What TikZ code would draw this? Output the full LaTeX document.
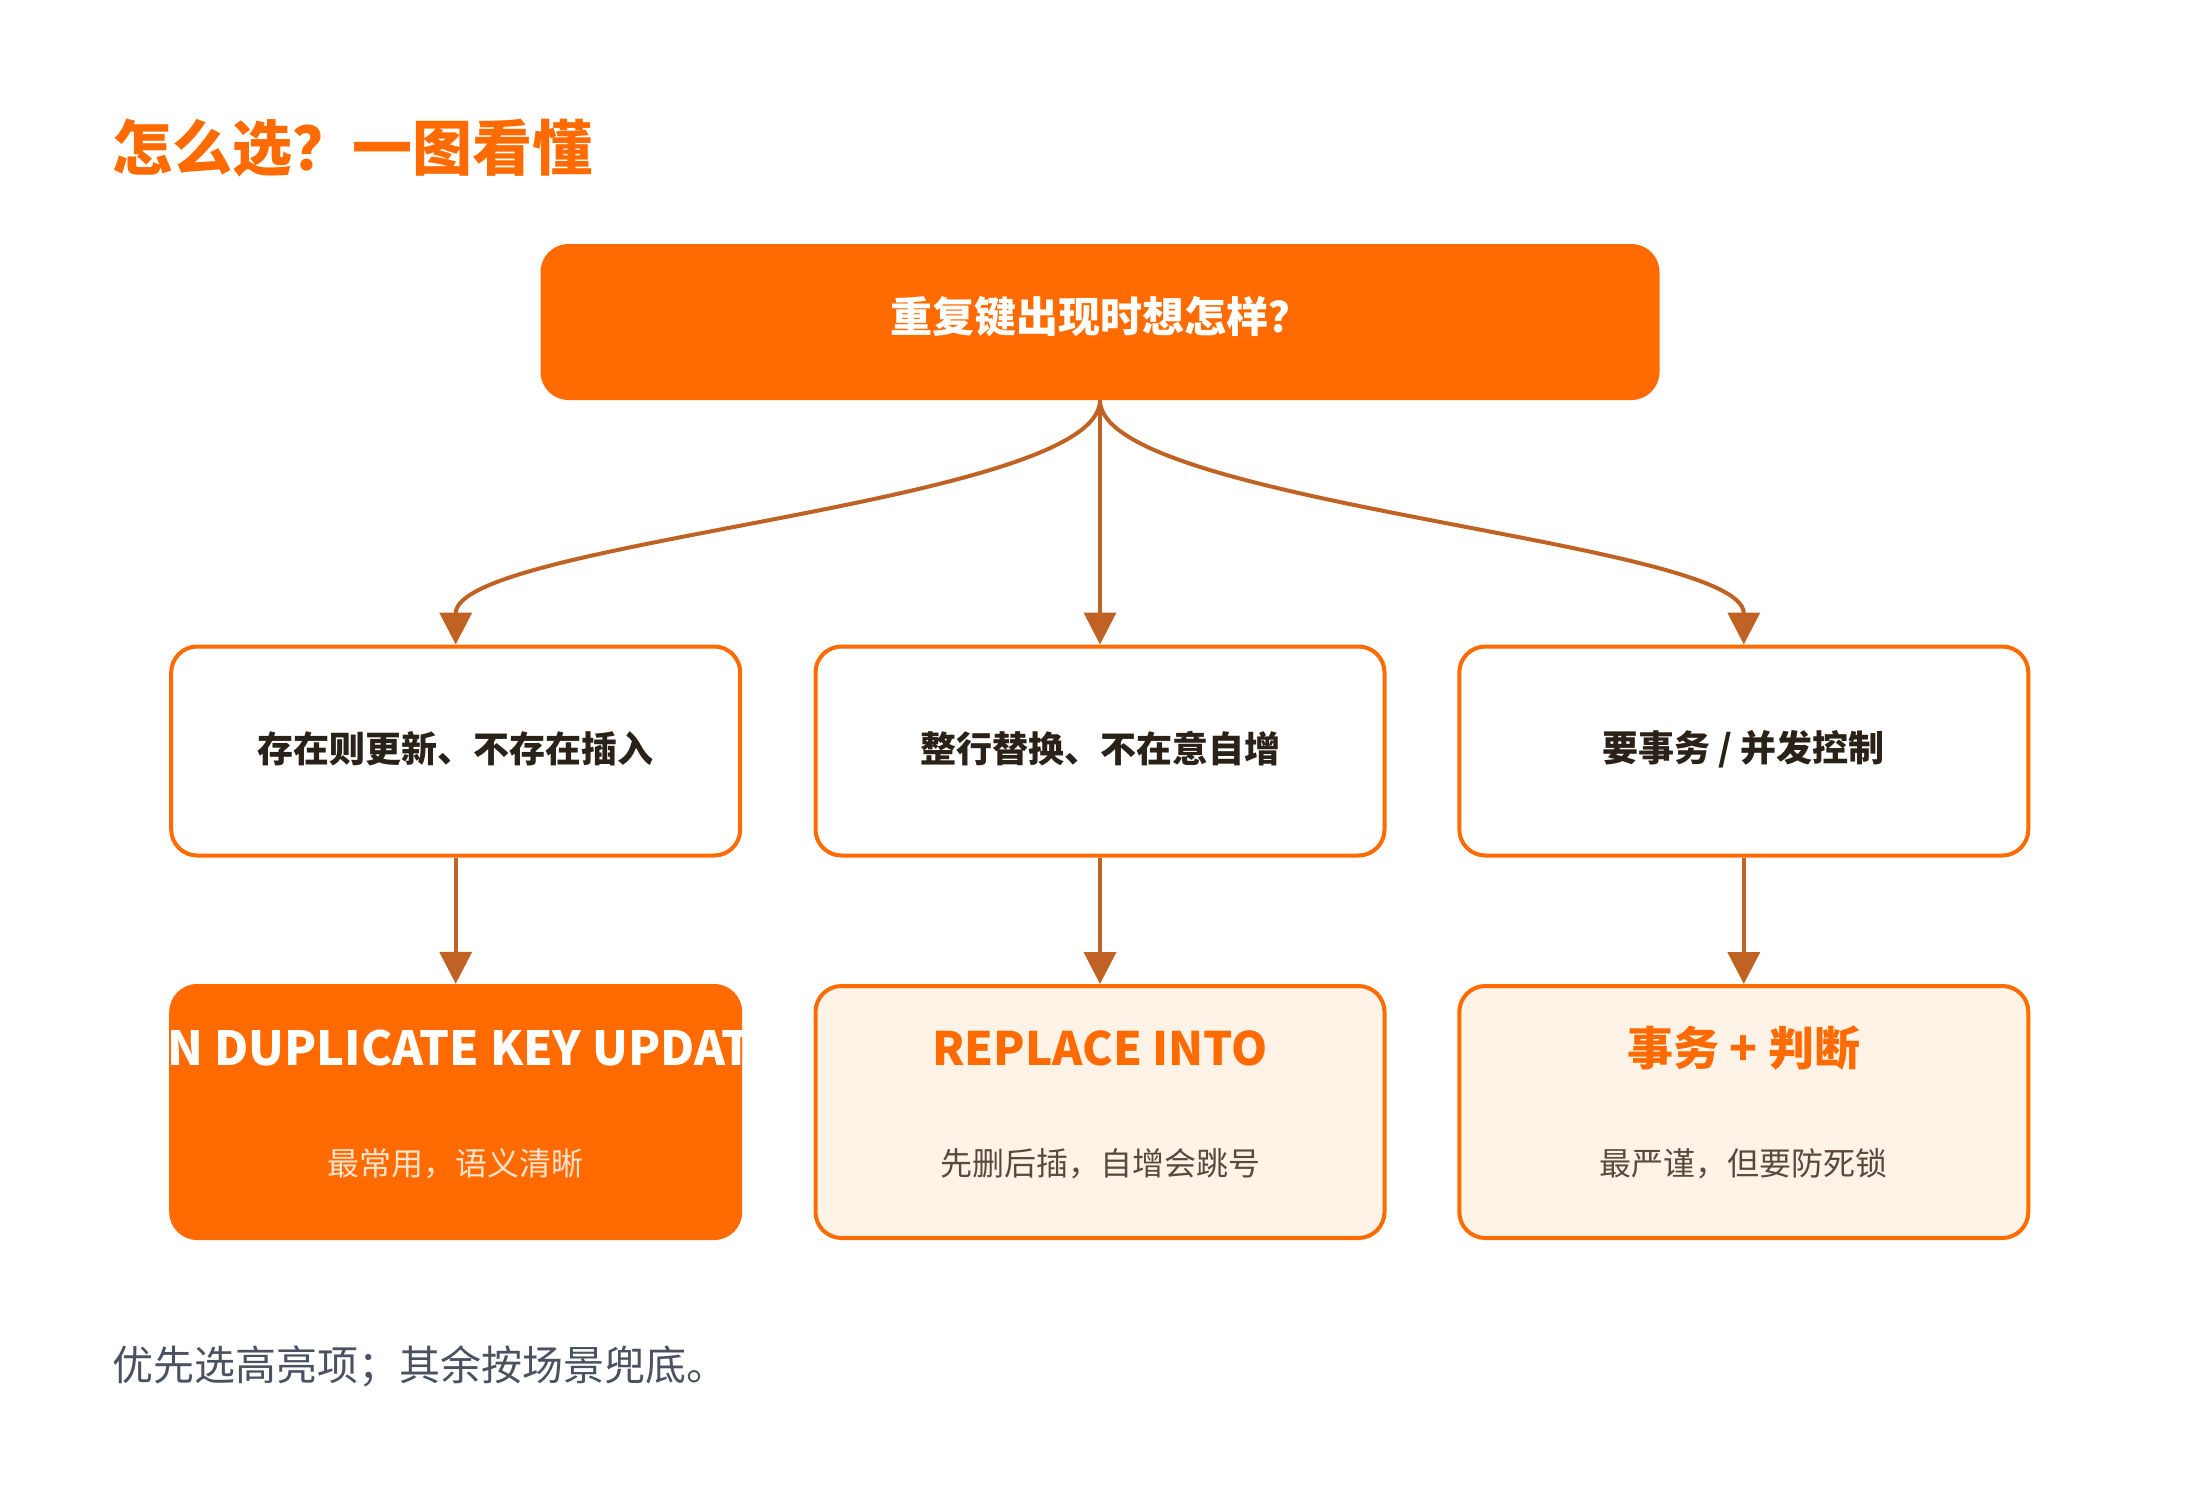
\documentclass[tikz,border=0pt]{standalone}
\usepackage{fontspec}
\setmainfont{Noto Sans CJK SC}
\usetikzlibrary{arrows.meta}
\definecolor{orng}{HTML}{FF6B00}
\definecolor{arrc}{HTML}{BF6224}
\definecolor{lightfill}{HTML}{FFF3E8}
\definecolor{darktxt}{HTML}{2A2118}
\definecolor{subtxt}{HTML}{5A4A3E}
\definecolor{subwhite}{HTML}{FFE3CC}
\definecolor{foot}{HTML}{4A5160}
\tikzset{
  fs/.style={font=\fontsize{#1}{#1}\selectfont},
  fsb/.style={font=\fontsize{#1}{#1}\selectfont\bfseries},
  topbox/.style={fill=orng, rounded corners=28pt, minimum width=1119pt, minimum height=156pt, inner sep=0pt},
  qbox/.style={draw=orng, line width=4pt, fill=white, rounded corners=26pt, minimum width=569pt, minimum height=209pt, inner sep=0pt},
  abox/.style={draw=orng, line width=4pt, fill=lightfill, rounded corners=26pt, minimum width=569pt, minimum height=252pt, inner sep=0pt},
  hbox/.style={fill=orng, rounded corners=28pt, minimum width=573pt, minimum height=256pt, inner sep=0pt},
  qtxt/.style={fsb=36, text=darktxt},
  atitle/.style={fsb=46, text=orng},
  asub/.style={fs=32, text=subtxt},
  arr/.style={draw=arrc, line width=4pt, -{Triangle[length=32pt,width=32pt]}},
}
\begin{document}
\begin{tikzpicture}[x=1pt,y=-1pt]
\useasboundingbox (0,0) rectangle (2200,1488);
% title
\node[anchor=west, inner sep=0pt, fsb=60, text=orng] (title) at (112.4,148) {怎么选？一图看懂};
% top box
\node[topbox] (top) at (1100,322) {};
\node[fsb=42, text=white] (toptxt) at (1100,317) {重复键出现时想怎样？};
% question boxes
\node[qbox] (q1) at (455.7,751) {};
\node[qbox] (q2) at (1100,751) {};
\node[qbox] (q3) at (1743.8,751) {};
\node[qtxt] (q1t) at (455.7,749) {存在则更新、不存在插入};
\node[qtxt] (q2t) at (1100,749) {整行替换、不在意自增};
\node[qtxt] (q3t) at (1743.8,749) {要事务 / 并发控制};
% answer boxes
\node[hbox] (a1) at (455.7,1112) {};
\node[abox] (a2) at (1100,1112) {};
\node[abox] (a3) at (1743.8,1112) {};
\begin{scope}
  \clip[rounded corners=28pt] (a1.north west) rectangle (a1.south east);
  \node[atitle, fsb=47, text=white] (a1t) at (455.7,1048) {ON DUPLICATE KEY UPDATE};
\end{scope}
\node[asub, text=subwhite] (a1s) at (455.7,1164) {最常用，语义清晰};
\node[atitle] (a2t) at (1100,1048) {REPLACE INTO};
\node[asub] (a2s) at (1100,1164) {先删后插，自增会跳号};
\node[atitle] (a3t) at (1743.8,1048) {事务 + 判断};
\node[asub] (a3s) at (1743.8,1164) {最严谨，但要防死锁};
% connectors
\draw[arr] (top.south) .. controls +(0,104) and +(0,-104) .. (q1.north);
\draw[arr] (top.south) -- (q2.north);
\draw[arr] (top.south) .. controls +(0,104) and +(0,-104) .. (q3.north);
\draw[arr] (q1.south) -- (a1.north);
\draw[arr] (q2.south) -- (a2.north);
\draw[arr] (q3.south) -- (a3.north);
% footer
\node[anchor=west, inner sep=0pt, fs=41, text=foot] (footer) at (112.4,1366) {优先选高亮项；其余按场景兜底。};
\end{tikzpicture}
\end{document}
